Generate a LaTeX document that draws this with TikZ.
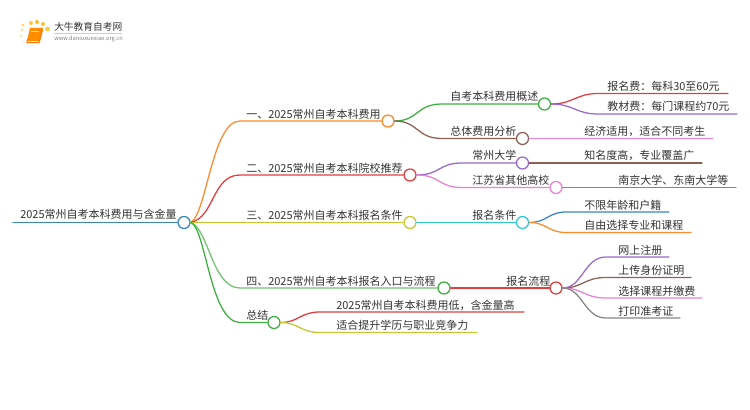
\documentclass[tikz,border=0pt]{standalone}
\usepackage{fontspec}
\setmainfont{Noto Sans CJK SC}
\definecolor{cblue}{HTML}{3A86C4}
\definecolor{corange}{HTML}{FF8A2B}
\definecolor{cred}{HTML}{E23D3D}
\definecolor{colive}{HTML}{C6C62E}
\definecolor{cgreen}{HTML}{3FB03F}
\definecolor{cpurple}{HTML}{9B68C8}
\definecolor{cbrown}{HTML}{8C5F52}
\definecolor{cpink}{HTML}{E982D2}
\definecolor{cgray}{HTML}{868686}
\definecolor{ccyan}{HTML}{2CC6E0}
\definecolor{ctext}{HTML}{333333}
\tikzset{
  link/.style={line width=0.95pt,line cap=round},
  dot/.style={circle,draw=#1,fill=white,line width=0.95pt,minimum size=9pt,inner sep=0pt},
  lab/.style={anchor=base west,inner sep=0pt,text=ctext,font=\fontsize{8.25pt}{10pt}\selectfont},
}
\begin{document}
\begin{tikzpicture}[x=0.75pt,y=-0.75pt]
\useasboundingbox (0,0) rectangle (750,410);
% logo
\foreach \px/\py/\pr/\po in {21/36/1.3/.35,22/30/1.5/.45,23/25/1.7/.6,31/23/2/.75,37/22/2/.85,43/24/2/.8,47.5/29/2.4/.7,23/42/1/.2}
  \fill[orange!60!yellow,opacity=\po] (\px,\py) circle (\pr);
\fill[orange!90!yellow] (30,28) -- (43,28) -- (40,41) -- (27,41) -- cycle;
\draw[orange!90!red,line width=0.8pt] (27.5,39) -- (27,42.5) -- (39,42.5) -- (42.5,30);
\fill[yellow!70!white] (31,31) rectangle (39,32);
\node[lab,font=\fontsize{7.3pt}{10pt}\selectfont] (logotext) at (54,31) {大牛教育自考网};
\draw[gray!40,line width=0.4pt] (54,33.5) -- (122,33.5);
\node[lab,text=gray,font=\fontsize{4.25pt}{6pt}\selectfont] (logourl) at (54,41) {www.daniuxuexiao.org.cn};
% dots
\node[dot=cblue] (root) at (184,222.5) {};
\node[dot=corange] (b1) at (388,121) {};
\node[dot=cred] (b2) at (410,175) {};
\node[dot=colive] (b3) at (410,222.5) {};
\node[dot=cgreen] (b4) at (444,288) {};
\node[dot=cgreen] (b5) at (274,322.5) {};
\node[dot=cgreen] (c1) at (544.5,104) {};
\node[dot=cbrown] (c2) at (522.5,138.5) {};
\node[dot=cpurple] (c3) at (522.5,163) {};
\node[dot=cpink] (c4) at (556,187.5) {};
\node[dot=ccyan] (c5) at (522.5,222.5) {};
\node[dot=cred] (c6) at (556,288) {};
% free ends
\coordinate (r0) at (13,222.5);
\coordinate (b1s) at (240,121);
\coordinate (b2s) at (240,175);
\coordinate (b4s) at (240,288);
\coordinate (b5s) at (240,322.5);
\coordinate (c1s) at (442,104);
\coordinate (c2s) at (442,138.5);
\coordinate (c3s) at (462,163);
\coordinate (c4s) at (462,187.5);
\coordinate (d1s) at (598,93.5);   \coordinate (d1e) at (728,93.5);
\coordinate (d2s) at (598,114);    \coordinate (d2e) at (737,114);
\coordinate (d3e) at (713,138.5);
\coordinate (d4e) at (702,163);
\coordinate (d5e) at (736,187.5);
\coordinate (d6s) at (566,212);    \coordinate (d6e) at (669,212);
\coordinate (d7s) at (566,232.5);  \coordinate (d7e) at (691,232.5);
\coordinate (d8s) at (606,257);    \coordinate (d8e) at (669,257);
\coordinate (d9s) at (606,277.5);  \coordinate (d9e) at (691,277.5);
\coordinate (d10s) at (606,298);   \coordinate (d10e) at (702,298);
\coordinate (d11s) at (606,318);   \coordinate (d11e) at (680,318);
\coordinate (e1s) at (320,312);    \coordinate (e1e) at (524,312);
\coordinate (e2s) at (320,332.5);  \coordinate (e2e) at (477,332.5);
% connectors
\draw[link,cblue,line width=1.4pt] (r0) -- (root.west);
\draw[link,corange] (root.east) .. controls +(16,-8) and +(-28,0) .. (b1s) -- (b1.west);
\draw[link,cred] (root.east) .. controls +(24,-5) and +(-28,0) .. (b2s) -- (b2.west);
\draw[link,colive] (root.east) -- (b3.west);
\draw[link,cgreen!75!white] (root.east) .. controls +(18,6) and +(-28,0) .. (b4s) -- (b4.west);
\draw[link,cgreen] (root.east) .. controls +(15,4) and +(-30,0) .. (b5s) -- (b5.west);
\draw[link,cgreen] (b1.east) .. controls +(24,0) and +(-26,0) .. (c1s) -- (c1.west);
\draw[link,cbrown] (b1.east) .. controls +(24,0) and +(-26,0) .. (c2s) -- (c2.west);
\draw[link,cpurple] (b2.east) .. controls +(24,0) and +(-24,0) .. (c3s) -- (c3.west);
\draw[link,cpink] (b2.east) .. controls +(24,0) and +(-24,0) .. (c4s) -- (c4.west);
\draw[link,ccyan] (b3.east) -- (c5.west);
\draw[link,cred] (b4.east) -- (c6.west);
\draw[link,cred] (c1.east) .. controls +(22,0) and +(-22,0) .. (d1s) -- (d1e);
\draw[link,cpurple] (c1.east) .. controls +(22,0) and +(-22,0) .. (d2s) -- (d2e);
\draw[link,cpink] (c2.east) -- (d3e);
\draw[link,cbrown] (c3.east) -- (d4e);
\draw[link,cgray] (c4.east) -- (d5e);
\draw[link,cblue] (c5.east) .. controls +(18,0) and +(-18,0) .. (d6s) -- (d6e);
\draw[link,corange] (c5.east) .. controls +(18,0) and +(-18,0) .. (d7s) -- (d7e);
\draw[link,cpurple] (c6.east) .. controls +(20,0) and +(-22,0) .. (d8s) -- (d8e);
\draw[link,cbrown] (c6.east) .. controls +(20,0) and +(-22,0) .. (d9s) -- (d9e);
\draw[link,cpink] (c6.east) .. controls +(20,0) and +(-22,0) .. (d10s) -- (d10e);
\draw[link,cgray] (c6.east) .. controls +(20,0) and +(-22,0) .. (d11s) -- (d11e);
\draw[link,cred] (b5.east) .. controls +(18,0) and +(-20,0) .. (e1s) -- (e1e);
\draw[link,colive] (b5.east) .. controls +(18,0) and +(-20,0) .. (e2s) -- (e2e);
% labels
\node[lab] (troot) at (20,218.5) {2025常州自考本科费用与含金量};
\node[lab] (t1) at (246,118) {一、2025常州自考本科费用};
\node[lab] (t2) at (246,172) {二、2025常州自考本科院校推荐};
\node[lab] (t3) at (246,219.5) {三、2025常州自考本科报名条件};
\node[lab] (t4) at (246,285) {四、2025常州自考本科报名入口与流程};
\node[lab] (t5) at (246,319.5) {总结};
\node[lab] (u1) at (450,101) {自考本科费用概述};
\node[lab] (u2) at (450,135.5) {总体费用分析};
\node[lab] (u3) at (472,160) {常州大学};
\node[lab] (u4) at (472,184.5) {江苏省其他高校};
\node[lab] (u5) at (472,219.5) {报名条件};
\node[lab] (u6) at (506,285) {报名流程};
\node[lab] (v1) at (607,90.5) {报名费：每科30至60元};
\node[lab] (v2) at (607,111) {教材费：每门课程约70元};
\node[lab] (v3) at (584,135.5) {经济适用，适合不同考生};
\node[lab] (v4) at (584,160) {知名度高，专业覆盖广};
\node[lab] (v5) at (618,184.5) {南京大学、东南大学等};
\node[lab] (v6) at (584,209) {不限年龄和户籍};
\node[lab] (v7) at (584,229.5) {自由选择专业和课程};
\node[lab] (v8) at (618,254) {网上注册};
\node[lab] (v9) at (618,274.5) {上传身份证明};
\node[lab] (v10) at (618,295) {选择课程并缴费};
\node[lab] (v11) at (618,315) {打印准考证};
\node[lab] (w1) at (336,309) {2025常州自考本科费用低，含金量高};
\node[lab] (w2) at (336,329.5) {适合提升学历与职业竞争力};
\end{tikzpicture}
\end{document}
